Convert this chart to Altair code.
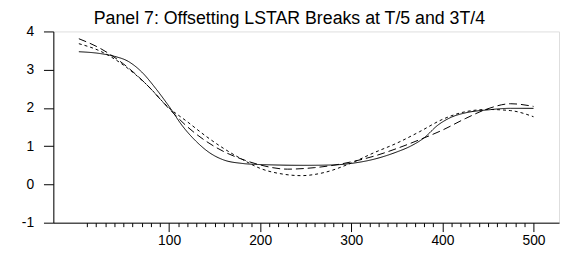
import altair as alt
import pandas as pd

# observation index at which values were read
t_solid = [1, 25, 40, 55, 70, 85, 100, 115, 130, 145, 160, 180, 200, 250, 280, 300, 325, 350, 365, 380, 395, 410, 425, 450, 475, 500]
v_solid = [3.47, 3.42, 3.35, 3.22, 2.94, 2.52, 2.04, 1.52, 1.12, 0.82, 0.64, 0.55, 0.52, 0.50, 0.51, 0.55, 0.66, 0.85, 1.00, 1.22, 1.55, 1.76, 1.87, 1.95, 1.99, 1.99]

t_long = [1, 25, 50, 75, 100, 120, 140, 160, 180, 200, 230, 260, 280, 300, 325, 350, 375, 400, 425, 450, 475, 500]
v_long = [3.81, 3.55, 3.15, 2.62, 1.98, 1.51, 1.14, 0.86, 0.66, 0.51, 0.40, 0.44, 0.50, 0.59, 0.74, 0.94, 1.17, 1.42, 1.72, 1.98, 2.11, 2.04]

t_short = [1, 25, 50, 75, 100, 120, 140, 160, 180, 200, 225, 245, 270, 300, 325, 350, 375, 400, 425, 450, 475, 500]
v_short = [3.68, 3.48, 3.12, 2.62, 2.00, 1.64, 1.27, 0.94, 0.66, 0.42, 0.27, 0.23, 0.31, 0.56, 0.83, 1.08, 1.38, 1.70, 1.90, 1.96, 1.93, 1.77]

x_ticks = list(range(10, 500, 10)) + [500]
y_ticks = [-1, 0, 1, 2, 3, 4]

df = pd.concat([
    pd.DataFrame({"t": t_solid, "v": v_solid, "s": "solid"}),
    pd.DataFrame({"t": t_long, "v": v_long, "s": "long"}),
    pd.DataFrame({"t": t_short, "v": v_short, "s": "short"}),
])

x_scale = alt.Scale(domain=[-27, 528], nice=False, zero=False)
y_scale = alt.Scale(domain=[-1, 4], nice=False, zero=False)

x_axis = alt.Axis(
    title=None, values=x_ticks, grid=False,
    labelExpr="datum.value % 100 === 0 ? datum.label : ''",
    tickSize={"condition": {"test": "datum.value % 100 === 0", "value": 9}, "value": 4},
    labelPadding=2, labelFontSize=14, labelFont="Liberation Sans", labelColor="black",
    tickColor="black", domainColor="black", labelFlush=False, labelOverlap=False,
)
y_axis = alt.Axis(
    title=None, values=y_ticks, grid=False, tickSize=10, labelPadding=10,
    labelExpr="'' + datum.value",
    labelFontSize=14, labelFont="Liberation Sans", labelColor="black",
    tickColor="black", domainColor="black",
)

chart = alt.Chart(df).mark_line(color="black", strokeWidth=1, interpolate="monotone").encode(
    x=alt.X("t:Q", scale=x_scale, axis=x_axis),
    y=alt.Y("v:Q", scale=y_scale, axis=y_axis),
    detail="s:N",
    strokeDash=alt.StrokeDash(
        "s:N",
        scale=alt.Scale(domain=["solid", "long", "short"], range=[[1, 0], [8, 4], [3, 3]]),
        legend=None,
    ),
).properties(
    width=513,
    height=194,
    autosize=alt.AutoSizeParams(type="none"),
    padding={"left": 46, "top": 22, "right": 2, "bottom": 32},
    title=alt.TitleParams(
        "Panel 7: Offsetting LSTAR Breaks at T/5 and 3T/4",
        fontSize=18, font="Liberation Sans", fontWeight="normal", color="black",
        anchor="middle", frame="group", offset=6, dx=-17, dy=9,
    ),
).configure_view(stroke="black", strokeWidth=1).configure(background="white")

chart.save("out.html", embed_options={"renderer": "svg", "actions": False})
